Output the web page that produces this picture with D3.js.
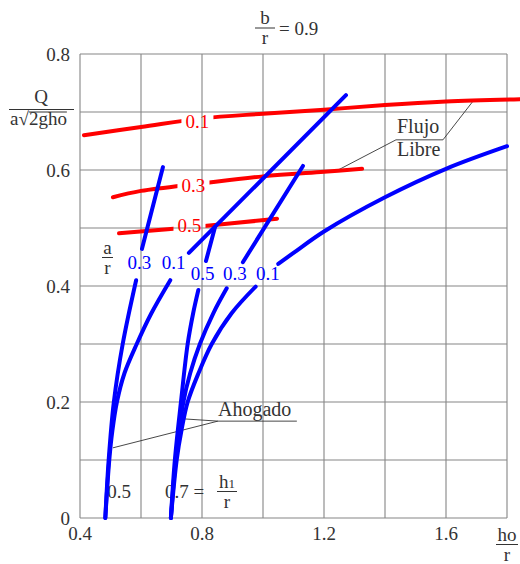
<!DOCTYPE html>
<html>
<head>
<meta charset="utf-8">
<script src="https://cdn.jsdelivr.net/npm/d3@7"></script>
<style>
  body { margin: 0; background: #fff; }
  svg { display: block; }
  svg text { fill: #333; font-family: "Times New Roman", Times, Tinos, "Liberation Serif", "DejaVu Serif", serif; }
</style>
</head>
<body>
<svg id="chart"></svg>
<script>
// axis ticks and grid
const xTicks = [0.4, 0.8, 1.2, 1.6];
const xGrid = [0.4, 0.6, 0.8, 1.0, 1.2, 1.4, 1.6, 1.8];
const yTicks = [0, 0.2, 0.4, 0.6, 0.8];
const yGrid = [0, 0.1, 0.2, 0.3, 0.4, 0.5, 0.6, 0.7, 0.8];

// free flow (red), one per a/r
const redA01 = [[0.413, 0.660], [0.6, 0.674], [0.8, 0.689], [1.0, 0.697], [1.2, 0.704], [1.4, 0.712], [1.6, 0.718], [1.843, 0.722]];
const redA03 = [[0.508, 0.553], [0.6, 0.564], [0.8, 0.577], [1.0, 0.589], [1.2, 0.597], [1.325, 0.602]];
const redA05 = [[0.528, 0.491], [0.8, 0.503], [1.046, 0.516]];
const redLabels = [["0.1", 0.785, 0.683], ["0.3", 0.772, 0.574], ["0.5", 0.759, 0.505]];

// submerged flow (blue), h1/r = 0.5
const subH05A03 = [[0.483, 0], [0.494, 0.1], [0.511, 0.2], [0.540, 0.3], [0.584, 0.410]];
const subH05A01 = [[0.483, 0], [0.496, 0.1], [0.506, 0.15], [0.521, 0.2], [0.546, 0.25], [0.586, 0.3], [0.634, 0.353], [0.696, 0.410]];
// submerged flow (blue), h1/r = 0.7
const subH07A05 = [[0.698, 0], [0.711, 0.1], [0.731, 0.2], [0.753, 0.3], [0.771, 0.353], [0.788, 0.393]];
const subH07A03 = [[0.698, 0], [0.714, 0.1], [0.739, 0.2], [0.761, 0.249], [0.793, 0.3], [0.837, 0.353], [0.881, 0.396]];
const subH07A01 = [[0.698, 0], [0.717, 0.1], [0.733, 0.152], [0.753, 0.2], [0.788, 0.249], [0.832, 0.3], [0.897, 0.353], [0.976, 0.399]];

// free flow (blue) continuation of each curve
const freeH05A03 = [[0.603, 0.464], [0.672, 0.605]];
const freeH05A01 = [[0.757, 0.457], [1.272, 0.729]];
const freeH07A05 = [[0.813, 0.443], [0.843, 0.502]];
const freeH07A03 = [[0.934, 0.441], [1.131, 0.607]];
const freeH07A01 = [[1.050, 0.438], [1.1, 0.457], [1.2, 0.494], [1.4, 0.553], [1.6, 0.602], [1.800, 0.641]];
const blueLabels = [["0.3", 0.595, 0.441], ["0.1", 0.707, 0.441], ["0.5", 0.802, 0.422], ["0.3", 0.908, 0.422], ["0.1", 1.016, 0.422]];

const width = 520, height = 564;
const svg = d3.select("#chart").attr("width", width).attr("height", height);

const x = d3.scaleLinear().domain([0.4, 1.8]).range([80, 507]);
const y = d3.scaleLinear().domain([0, 0.8]).range([518, 54]);

// grid
const grid = svg.append("g").attr("stroke", "#858585").attr("stroke-width", 1.1);
grid.selectAll("line.v").data(xGrid).enter().append("line")
  .attr("x1", d => x(d)).attr("x2", d => x(d))
  .attr("y1", y(0)).attr("y2", y(0.8));
grid.selectAll("line.h").data(yGrid).enter().append("line")
  .attr("x1", x(0.4)).attr("x2", x(1.8))
  .attr("y1", d => y(d)).attr("y2", d => y(d));

// tick labels
svg.append("g").selectAll("text").data(yTicks).enter().append("text")
  .attr("x", 70).attr("y", d => y(d) + 6.5)
  .attr("text-anchor", "end").attr("font-size", 19)
  .text(d => d === 0 ? "0" : d.toFixed(1));
svg.append("g").selectAll("text").data(xTicks).enter().append("text")
  .attr("x", d => x(d)).attr("y", 540)
  .attr("text-anchor", "middle").attr("font-size", 19)
  .text(d => d.toFixed(1));

// fraction helper
function frac(cx, barY, num, den, w, size) {
  const g = svg.append("g");
  g.append("text").attr("x", cx).attr("y", barY - 4).attr("text-anchor", "middle")
    .attr("font-size", size).text(num);
  g.append("line").attr("x1", cx - w / 2).attr("x2", cx + w / 2)
    .attr("y1", barY).attr("y2", barY).attr("stroke", "#333").attr("stroke-width", 1);
  g.append("text").attr("x", cx).attr("y", barY + 16).attr("text-anchor", "middle")
    .attr("font-size", size).text(den);
  return g;
}

// title b/r = 0.9
frac(265, 28, "b", "r", 20, 19);
svg.append("text").attr("x", 279).attr("y", 35).attr("font-size", 19).text("= 0.9");

// y axis label Q / a sqrt(2gho)
svg.append("text").attr("x", 41).attr("y", 103).attr("text-anchor", "middle").attr("font-size", 19).text("Q");
svg.append("line").attr("x1", 9).attr("x2", 74).attr("y1", 109.5).attr("y2", 109.5).attr("stroke", "#333");
const den = svg.append("text").attr("x", 10).attr("y", 125).attr("font-size", 19);
den.append("tspan").text("a");
den.append("tspan").text("\u221A");
const rad = den.append("tspan").text("2gho");
{
  const ext = rad.node().getExtentOfChar(0);
  const len = rad.node().getComputedTextLength();
  svg.append("line").attr("x1", ext.x).attr("x2", ext.x + len)
    .attr("y1", 112).attr("y2", 112).attr("stroke", "#333").attr("stroke-width", 1);
}

// x axis label ho/r
frac(507, 544.5, "ho", "r", 22, 19);

// a/r label
frac(107.5, 257.5, "a", "r", 11, 19);

// h1/r labels at the foot of the curves
svg.append("text").attr("x", 119).attr("y", 498).attr("text-anchor", "middle").attr("font-size", 19).text("0.5");
svg.append("text").attr("x", 165).attr("y", 498).attr("font-size", 19).text("0.7 =");
{
  const g = frac(227, 491.5, "", "r", 20, 19);
  const t = g.select("text");
  t.append("tspan").text("h");
  t.append("tspan").attr("font-size", 13).text("1");
}

// annotations
const ann = svg.append("g").attr("stroke", "#333").attr("stroke-width", 0.9).attr("fill", "none");
const leader = d3.line().x(d => x(d[0])).y(d => y(d[1]));
ann.append("path").attr("d", leader([[1.239, 0.598], [1.436, 0.652], [1.590, 0.652], [1.689, 0.719]]));
ann.append("path").attr("d", leader([[0.508, 0.121], [0.852, 0.167], [1.111, 0.167]]));
ann.append("path").attr("d", leader([[0.738, 0.171], [0.852, 0.167]]));
svg.append("text").attr("x", 397).attr("y", 133).attr("font-size", 20).text("Flujo");
svg.append("text").attr("x", 397).attr("y", 156).attr("font-size", 20).text("Libre");
svg.append("text").attr("x", 218).attr("y", 416).attr("font-size", 20).text("Ahogado");

// mask leaving gaps for the red labels
const mask = svg.append("defs").append("mask").attr("id", "redGap")
  .attr("maskUnits", "userSpaceOnUse").attr("x", 0).attr("y", 0)
  .attr("width", width).attr("height", height);
mask.append("rect").attr("width", width).attr("height", height).attr("fill", "#fff");
mask.selectAll("rect.gap").data(redLabels).enter().append("rect")
  .attr("x", d => x(d[1]) - 16).attr("y", d => y(d[2]) - 10)
  .attr("width", 32).attr("height", 20).attr("fill", "#000");

const curve = d3.line().x(d => x(d[0])).y(d => y(d[1])).curve(d3.curveCatmullRom.alpha(0.5));

svg.append("g").attr("mask", "url(#redGap)")
  .selectAll("path").data([redA01, redA03, redA05]).enter().append("path")
  .attr("d", curve).attr("fill", "none").attr("stroke", "#ff0000")
  .attr("stroke-width", 4).attr("stroke-linecap", "round");

svg.append("g").selectAll("text").data(redLabels).enter().append("text")
  .attr("x", d => x(d[1])).attr("y", d => y(d[2]) + 6.5)
  .attr("text-anchor", "middle").attr("font-size", 19).style("fill", "#ff0000")
  .text(d => d[0]);

svg.append("g").selectAll("path")
  .data([subH05A03, subH05A01, subH07A05, subH07A03, subH07A01,
         freeH05A03, freeH05A01, freeH07A05, freeH07A03, freeH07A01]).enter().append("path")
  .attr("d", curve).attr("fill", "none").attr("stroke", "#0000ff")
  .attr("stroke-width", 4).attr("stroke-linecap", "round");

svg.append("g").selectAll("text").data(blueLabels).enter().append("text")
  .attr("x", d => x(d[1])).attr("y", d => y(d[2]) + 6.5)
  .attr("text-anchor", "middle").attr("font-size", 19).style("fill", "#0000ff")
  .text(d => d[0]);
</script>
</body>
</html>
